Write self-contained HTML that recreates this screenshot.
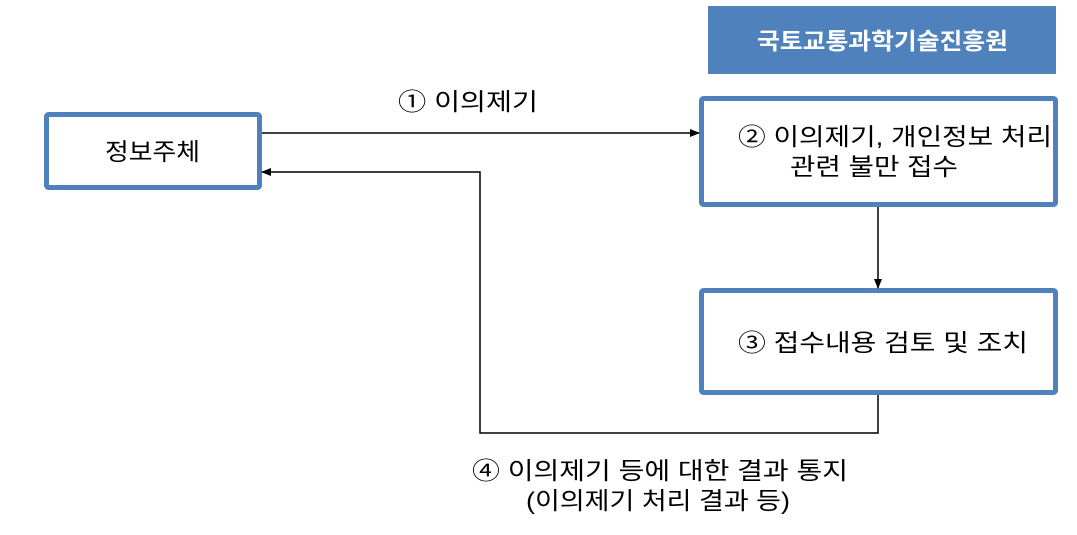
<!DOCTYPE html>
<html><head><meta charset="utf-8"><style>
body{margin:0;background:#fff;}
svg text{font-family:"Liberation Sans","Noto Sans CJK KR",sans-serif;fill:#000;}
</style></head><body>
<svg width="1077" height="530" xmlns="http://www.w3.org/2000/svg">
<defs><marker id="a" markerWidth="10" markerHeight="8" refX="9" refY="4" orient="auto" markerUnits="userSpaceOnUse"><path d="M0,0 L10,4 L0,8 z" fill="#000"/></marker></defs>
<rect x="708" y="6" width="348" height="68" fill="#4f81bd"/>
<text x="757" y="49" font-size="23" font-weight="bold" textLength="251" lengthAdjust="spacingAndGlyphs" style="fill:#fff">국토교통과학기술진흥원</text>
<rect x="46.5" y="114.5" width="213" height="73" fill="#fff" stroke="#4f81bd" stroke-width="5" rx="2"/>
<text x="105" y="160" font-size="24" textLength="95" lengthAdjust="spacingAndGlyphs">정보주체</text>
<rect x="701.5" y="98.5" width="354" height="106" fill="#fff" stroke="#4f81bd" stroke-width="5" rx="2"/>
<text x="738" y="145" font-size="24" textLength="314" lengthAdjust="spacingAndGlyphs">②  이의제기, 개인정보 처리</text>
<text x="790" y="175" font-size="24" textLength="168" lengthAdjust="spacingAndGlyphs">관련 불만 접수</text>
<rect x="701.5" y="290.5" width="354" height="102" fill="#fff" stroke="#4f81bd" stroke-width="5" rx="2"/>
<text x="738" y="351" font-size="24" textLength="290" lengthAdjust="spacingAndGlyphs">③  접수내용 검토 및 조치</text>
<line x1="262" y1="133" x2="699" y2="133" stroke="#000" stroke-width="1.5" marker-end="url(#a)"/>
<polyline points="878,395 878,433 480,433 480,172 262,172" fill="none" stroke="#000" stroke-width="1.5" marker-end="url(#a)"/>
<line x1="878" y1="207" x2="878" y2="288" stroke="#000" stroke-width="1.5" marker-end="url(#a)"/>
<text x="398" y="110" font-size="24" textLength="140" lengthAdjust="spacingAndGlyphs">①  이의제기</text>
<text x="472" y="479" font-size="24" textLength="376" lengthAdjust="spacingAndGlyphs">④  이의제기 등에 대한 결과 통지</text>
<text x="526" y="509" font-size="24" textLength="264" lengthAdjust="spacingAndGlyphs">(이의제기 처리 결과 등)</text>
</svg>
</body></html>
